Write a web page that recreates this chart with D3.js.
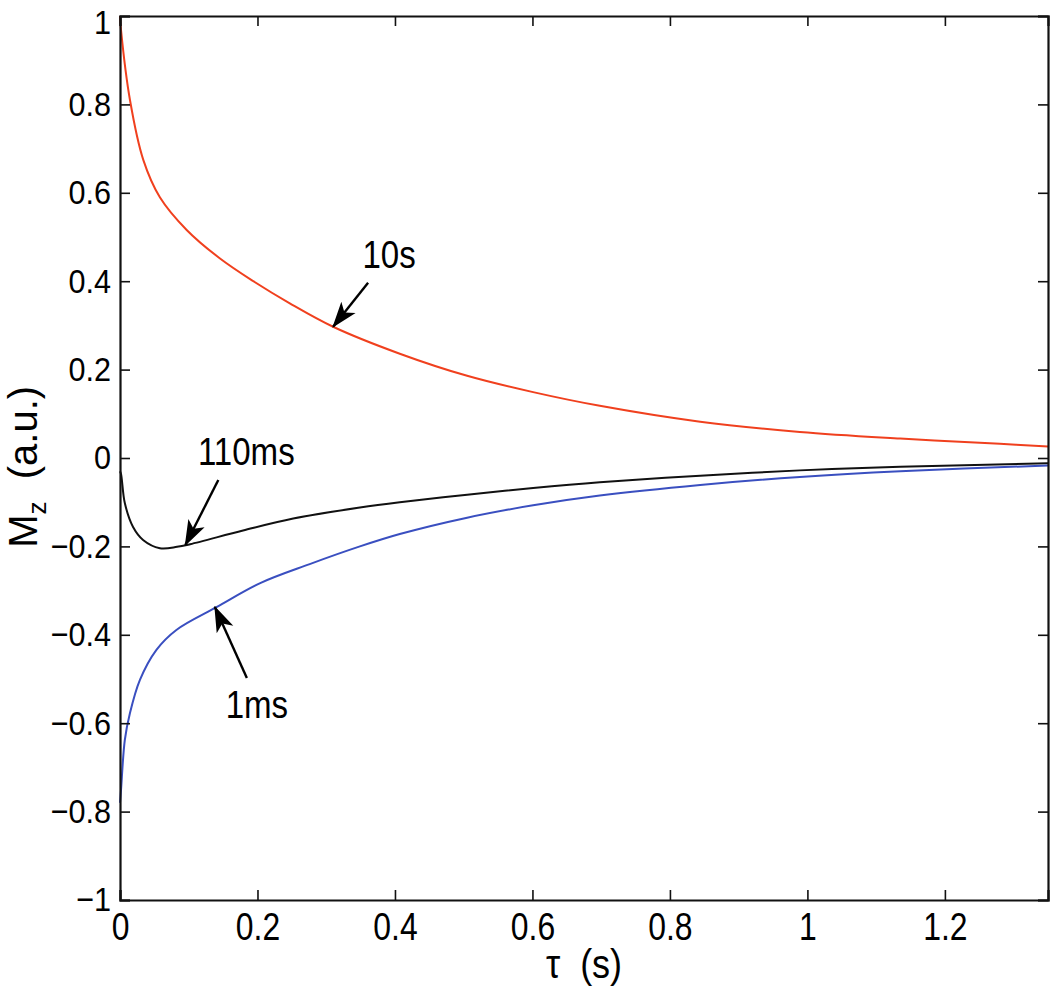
<!DOCTYPE html>
<html>
<head>
<meta charset="utf-8">
<script src="https://cdn.jsdelivr.net/npm/d3@7"></script>
<style>
  html, body { margin: 0; padding: 0; background: #fff; }
  svg { display: block; }
  text { font-family: "Liberation Sans", Arial, Helvetica, sans-serif; fill: #000; }
</style>
</head>
<body>
<svg id="chart" width="1050" height="993"></svg>
<script>
// ---- data ----
const tauRed   = [0, 0.0015, 0.0145, 0.034, 0.058, 0.097, 0.145, 0.194, 0.247, 0.31, 0.407, 0.505, 0.601, 0.698, 0.844, 0.989, 1.135, 1.28, 1.35];
const mz10s    = [1.0, 0.968, 0.81, 0.674, 0.59, 0.516, 0.452, 0.400, 0.350, 0.297, 0.236, 0.186, 0.149, 0.118, 0.082, 0.059, 0.044, 0.032, 0.026];

const tauBlack = [0, 0.0015, 0.007, 0.019, 0.034, 0.058, 0.083, 0.102, 0.179, 0.252, 0.349, 0.407, 0.505, 0.601, 0.698, 0.844, 0.989, 1.135, 1.35];
const mz110ms  = [-0.03, -0.036, -0.102, -0.156, -0.186, -0.204, -0.201, -0.195, -0.164, -0.137, -0.112, -0.100, -0.083, -0.068, -0.055, -0.040, -0.028, -0.020, -0.012];

const tauBlue  = [0, 0.0015, 0.007, 0.0145, 0.029, 0.053, 0.082, 0.141, 0.204, 0.276, 0.349, 0.407, 0.505, 0.601, 0.698, 0.844, 0.989, 1.135, 1.35];
const mz1ms    = [-0.78, -0.751, -0.638, -0.577, -0.502, -0.434, -0.389, -0.337, -0.283, -0.240, -0.200, -0.172, -0.135, -0.107, -0.085, -0.061, -0.043, -0.030, -0.017];

const xTicks = [0, 0.2, 0.4, 0.6, 0.8, 1, 1.2];
const xTickLabels = ["0", "0.2", "0.4", "0.6", "0.8", "1", "1.2"];
const yTicks = [-1, -0.8, -0.6, -0.4, -0.2, 0, 0.2, 0.4, 0.6, 0.8, 1];
const yTickLabels = ["\u22121", "\u22120.8", "\u22120.6", "\u22120.4", "\u22120.2", "0", "0.2", "0.4", "0.6", "0.8", "1"];

// annotations: label, point on curve (tau, Mz) the arrow points to
const annLabels = ["10s", "110ms", "1ms"];
const annTau    = [0.31, 0.095, 0.138];
const annMz     = [0.297, -0.197, -0.337];

// ---- layout ----
const margin = { left: 120, top: 16, right: 2, bottom: 93 };
const W = 1050, H = 993;
const iw = W - margin.left - margin.right;
const ih = H - margin.top - margin.bottom;

const svg = d3.select("#chart");
const g = svg.append("g").attr("transform", `translate(${margin.left},${margin.top})`);

const x = d3.scaleLinear().domain([0, 1.35]).range([0, iw]);
const y = d3.scaleLinear().domain([-1, 1]).range([ih, 0]);

// curves
const line = d3.line().x(d => x(d[0])).y(d => y(d[1])).curve(d3.curveCatmullRom.alpha(0.5));
const series = [
  { t: tauBlack, v: mz110ms, color: "#111111" },
  { t: tauBlue,  v: mz1ms,   color: "#3a4fc0" },
  { t: tauRed,   v: mz10s,   color: "#f0401e" }
];
series.forEach(s => {
  g.append("path")
    .datum(s.t.map((t, i) => [t, s.v[i]]))
    .attr("fill", "none")
    .attr("stroke", s.color)
    .attr("stroke-width", 2)
    .attr("d", line);
});

// axes
const fmtX = d => xTickLabels[xTicks.indexOf(d)];
const fmtY = d => yTickLabels[yTicks.indexOf(d)];

const axB = g.append("g").attr("transform", `translate(0,${ih})`)
  .call(d3.axisBottom(x).tickValues(xTicks).tickSize(-10).tickPadding(13).tickFormat(fmtX));
const axT = g.append("g")
  .call(d3.axisTop(x).tickValues(xTicks).tickSize(-10).tickFormat(""));
const axL = g.append("g")
  .call(d3.axisLeft(y).tickValues(yTicks).tickSize(-10).tickPadding(10).tickFormat(fmtY));
const axR = g.append("g").attr("transform", `translate(${iw},0)`)
  .call(d3.axisRight(y).tickValues(yTicks).tickSize(-10).tickFormat(""));

[axB, axT, axL, axR].forEach(a => {
  a.select(".domain").attr("stroke", "#111").attr("stroke-width", 2.2);
  a.selectAll(".tick line").attr("stroke", "#111").attr("stroke-width", 1.6);
  a.selectAll("text").attr("font-family", null);
});
axB.selectAll(".tick text").attr("font-size", 38).attr("transform", "scale(0.84,1)");
axL.selectAll(".tick text").attr("font-size", 34).attr("transform", "scale(0.9,1)");
axL.selectAll(".tick text").filter(d => d === 1).attr("dy", "0.5em");

// axis labels
const yl = svg.append("text")
  .attr("transform", `translate(37,${margin.top + y(-0.02)}) rotate(-90)`)
  .attr("text-anchor", "middle")
  .attr("font-size", 40);
yl.append("tspan").text("M");
yl.append("tspan").attr("font-size", 26).attr("dy", 9).text("z");
yl.append("tspan").attr("dy", -9).text("\u00a0\u00a0(a.u.)");

svg.append("text")
  .attr("transform", `translate(${margin.left + x(0.675)},978) scale(0.9,1)`)
  .attr("text-anchor", "middle")
  .attr("font-size", 40)
  .text("\u03c4\u00a0\u00a0(s)");

// annotations (arrows + text)
const annOffsets = [[35, -44, 56, -59], [33, -65, 61, -80], [32, 71, 42, 111]]; // [dx tail, dy tail, dx text, dy text]
const defs = svg.append("defs");
defs.append("marker")
  .attr("id", "ah").attr("viewBox", "0 0 20 20").attr("refX", 19).attr("refY", 10)
  .attr("markerWidth", 26).attr("markerHeight", 26).attr("markerUnits", "userSpaceOnUse")
  .attr("orient", "auto")
  .append("path").attr("d", "M0,3 L20,10 L0,17 L5,10 Z").attr("fill", "#000");

annLabels.forEach((lab, i) => {
  const px = x(annTau[i]), py = y(annMz[i]);
  const o = annOffsets[i];
  g.append("line")
    .attr("x1", px + o[0]).attr("y1", py + o[1])
    .attr("x2", px).attr("y2", py)
    .attr("stroke", "#000").attr("stroke-width", 2.4)
    .attr("marker-end", "url(#ah)");
  g.append("text")
    .attr("transform", `translate(${px + o[2]},${py + o[3]}) scale(0.87,1)`)
    .attr("text-anchor", "middle")
    .attr("font-size", 38)
    .text(lab);
});
</script>
</body>
</html>
